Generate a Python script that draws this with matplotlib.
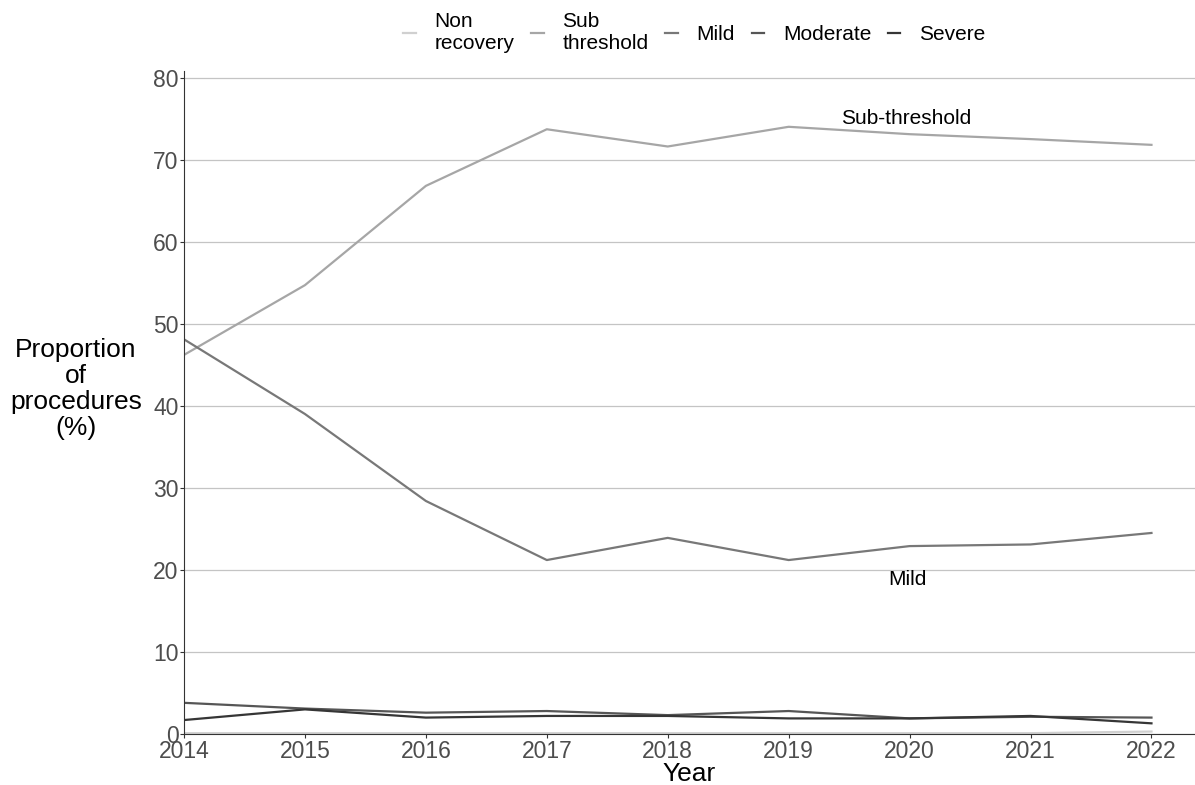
import matplotlib
matplotlib.use("Agg")
import matplotlib.pyplot as plt

plt.rcParams['font.family'] = ['Liberation Sans', 'DejaVu Sans']

years = [2014, 2015, 2016, 2017, 2018, 2019, 2020, 2021, 2022]
non_recovery = [0.1, 0.1, 0.1, 0.1, 0.1, 0.1, 0.1, 0.1, 0.3]
sub_threshold = [46.2, 54.7, 66.8, 73.7, 71.6, 74.0, 73.1, 72.5, 71.8]
mild = [48.1, 39.0, 28.4, 21.2, 23.9, 21.2, 22.9, 23.1, 24.5]
moderate = [3.8, 3.1, 2.6, 2.8, 2.3, 2.8, 1.9, 2.1, 2.0]
severe = [1.7, 3.0, 2.0, 2.2, 2.2, 1.9, 1.9, 2.2, 1.3]

labels = ["Non\nrecovery", "Sub\nthreshold", "Mild", "Moderate", "Severe"]
colors = ["#d0d0d0", "#a6a6a6", "#787878", "#565656", "#363636"]
series = [non_recovery, sub_threshold, mild, moderate, severe]

fig = plt.figure(figsize=(11.95, 7.85), dpi=100)
ax = fig.add_axes([184 / 1195, 51 / 785, 1011 / 1195, 663 / 785])

for vals, lab, col in zip(series, labels, colors):
    ax.plot(years, vals, color=col, lw=1.6, label=lab)

ax.set_xlim(2014, 2022.36)
ax.set_ylim(0, 80.8)
ax.set_yticks(range(0, 81, 10))
ax.set_xticks(years)
ax.grid(axis='y', color='#c4c4c4', lw=0.9)
ax.set_axisbelow(True)
for s in ['top', 'right']:
    ax.spines[s].set_visible(False)
ax.spines['left'].set_color('#333333')
ax.spines['bottom'].set_color('#333333')
ax.tick_params(labelsize=16.5, colors='#4d4d4d', length=3, pad=1)
ax.tick_params(axis='x', pad=1)
ax.tick_params(axis='both', color='#333333')

# x-label pinned to the bottom edge of the figure
ax.set_xlabel("Year", fontsize=19, va='bottom')
ax.xaxis.set_label_coords(0.5, -0.078)
ax.set_ylabel("Proportion\nof\nprocedures\n(%)", fontsize=19, rotation=0,
              ha='center', va='center', linespacing=1.1)
ax.yaxis.set_label_coords(-0.107, 0.52)

ax.text(2019.97, 75.0, "Sub-threshold", fontsize=15, ha='center', va='center')
ax.text(2019.98, 18.8, "Mild", fontsize=15, ha='center', va='center')

leg = ax.legend(loc='center', ncol=5, frameon=False,
                fontsize=15, handlelength=0.6, handletextpad=0.9, columnspacing=0.8,
                labelspacing=0.1)
leg.set_bbox_to_anchor((0.581, 0.958), transform=fig.transFigure)

fig.savefig("out.png", dpi=100)
